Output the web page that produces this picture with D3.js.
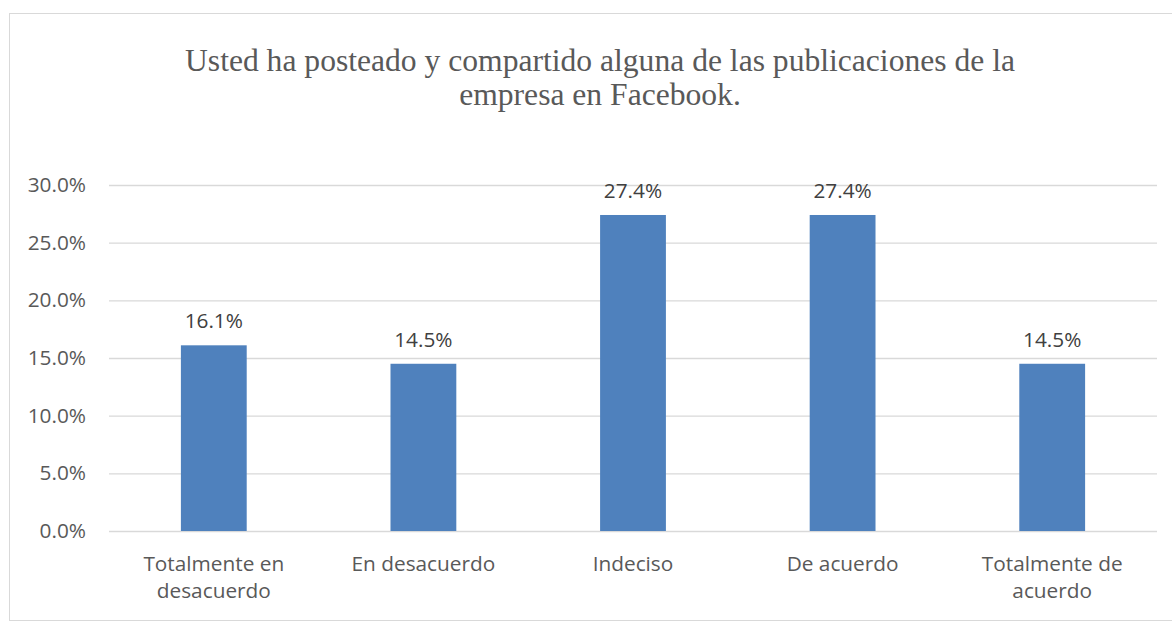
<!DOCTYPE html>
<html lang="es">
<head>
    <meta charset="UTF-8">
    <title>Usted ha posteado y compartido</title>
    <script src="https://cdn.jsdelivr.net/npm/d3@7"></script>
    <style>
        body { margin: 0; background: #fff; }
    </style>
</head>
<body>

<script>
    // datos
    var categorias = ["Totalmente en desacuerdo", "En desacuerdo", "Indeciso", "De acuerdo", "Totalmente de acuerdo"];
    var valores = [0.161, 0.145, 0.274, 0.274, 0.145];
    var ticksY = [0, 0.05, 0.10, 0.15, 0.20, 0.25, 0.30];
    var tituloLineas = ["Usted ha posteado y compartido alguna de las publicaciones de la", "empresa en Facebook."];

    var width = 1172,
            height = 622;

    var margin = {top: 185, right: 15, bottom: 91, left: 109};
    var fuente = "'Open Sans', sans-serif";

    var svg = d3.select("body").append("svg")
            .attr("width", width)
            .attr("height", height);

    // marco del area del grafico
    svg.append("rect")
            .attr("x", 9.5)
            .attr("y", 13.5)
            .attr("width", 1180)
            .attr("height", 607)
            .attr("fill", "#fff")
            .attr("stroke", "#d9d9d9")
            .attr("stroke-width", 1);

    var x = d3.scaleBand()
            .domain(categorias)
            .range([margin.left, width - margin.right])
            .paddingInner(0.686)
            .paddingOuter(0.343);

    var y = d3.scaleLinear()
            .domain([0, 0.30])
            .range([height - margin.bottom, margin.top]);

    // lineas de cuadricula + etiquetas eje y
    var yAxis = d3.axisLeft(y)
            .tickValues(ticksY)
            .tickFormat(d3.format(".1%"))
            .tickSize(-(width - margin.right - margin.left))
            .tickPadding(23);

    var gy = svg.append("g")
            .attr("transform", "translate(" + margin.left + ",0)")
            .call(yAxis);
    gy.select(".domain").remove();
    gy.selectAll(".tick line")
            .attr("stroke", "#d9d9d9")
            .attr("stroke-width", 1.3);
    gy.selectAll(".tick text")
            .attr("fill", "#595959")
            .style("font-family", fuente)
            .style("font-size", "20.8px");

    // barras
    svg.selectAll(".barra")
            .data(valores)
            .enter()
            .append("rect")
            .attr("class", "barra")
            .attr("x", function (d, i) { return x(categorias[i]); })
            .attr("y", function (d) { return y(d); })
            .attr("width", x.bandwidth())
            .attr("height", function (d) { return y(0) - y(d); })
            .attr("fill", "#4f81bd");

    // etiquetas de datos
    svg.selectAll(".etiqueta")
            .data(valores)
            .enter()
            .append("text")
            .attr("class", "etiqueta")
            .attr("x", function (d, i) { return x(categorias[i]) + x.bandwidth() / 2; })
            .attr("y", function (d) { return y(d) - 17; })
            .attr("text-anchor", "middle")
            .attr("fill", "#404040")
            .style("font-family", fuente)
            .style("font-size", "20.8px")
            .text(function (d) { return d3.format(".1%")(d); });

    // etiquetas del eje x, con ajuste de linea
    var gx = svg.append("g");
    categorias.forEach(function (c, i) {
        var t = gx.append("text")
                .attr("x", x(c) + x.bandwidth() / 2)
                .attr("y", 571)
                .attr("text-anchor", "middle")
                .attr("fill", "#595959")
                .style("font-family", fuente)
                .style("font-size", "20.8px");
        var palabras = c.split(" ");
        var linea = [];
        var lineas = [];
        var prueba = t.append("tspan");
        palabras.forEach(function (p) {
            linea.push(p);
            prueba.text(linea.join(" "));
            if (prueba.node().getComputedTextLength() > 195 && linea.length > 1) {
                linea.pop();
                lineas.push(linea.join(" "));
                linea = [p];
            }
        });
        lineas.push(linea.join(" "));
        prueba.remove();
        lineas.forEach(function (l, k) {
            t.append("tspan")
                    .attr("x", x(c) + x.bandwidth() / 2)
                    .attr("dy", k === 0 ? 0 : 27)
                    .text(l);
        });
    });

    // titulo
    svg.append("text")
            .attr("x", 600)
            .attr("y", 71)
            .attr("text-anchor", "middle")
            .attr("fill", "#595959")
            .style("font-family", "'Liberation Serif', 'Times New Roman', serif")
            .style("font-size", "31.6px")
            .selectAll("tspan")
            .data(tituloLineas)
            .enter()
            .append("tspan")
            .attr("x", 600)
            .attr("dy", function (d, i) { return i === 0 ? 0 : 34; })
            .text(function (d) { return d; });

</script>

</body>
</html>
